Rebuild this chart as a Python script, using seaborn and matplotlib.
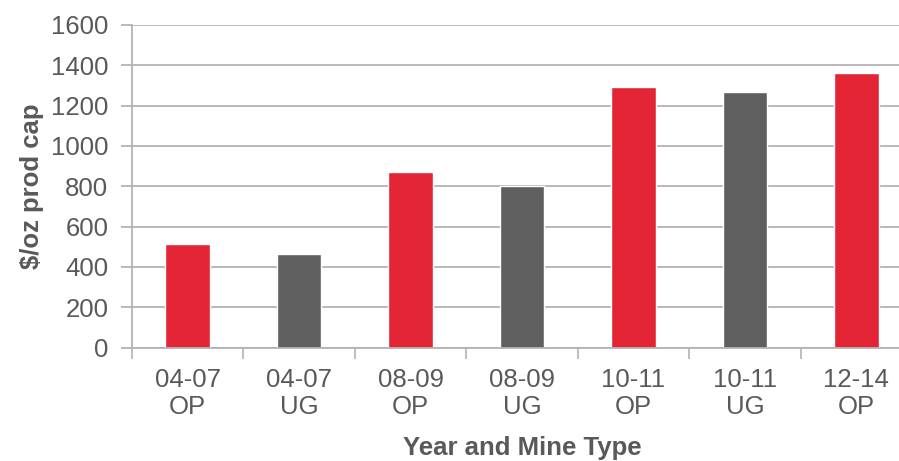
import matplotlib
matplotlib.use("Agg")
import matplotlib.pyplot as plt
import seaborn as sns
import pandas as pd

# Capital intensity by period and mine type
categories = ["04-07\nOP", "04-07\nUG", "08-09\nOP", "08-09\nUG",
              "10-11\nOP", "10-11\nUG", "12-14\nOP"]
values = [515, 465, 870, 800, 1290, 1270, 1360]
mine_type = ["OP", "UG", "OP", "UG", "OP", "UG", "OP"]
y_ticks = [0, 200, 400, 600, 800, 1000, 1200, 1400, 1600]

RED = "#E32434"
DARK = "#5F5F5F"
TEXT = "#595959"
GRID = "#B3B3B3"
FS = 18.5

sns.set_theme(style="white")
plt.rcParams["font.family"] = ["Liberation Sans", "DejaVu Sans"]

df = pd.DataFrame({"period": categories, "value": values, "type": mine_type})
colors = [RED if t == "OP" else DARK for t in mine_type]

fig = plt.figure(figsize=(8.99, 4.61), dpi=100)
ax = fig.add_axes([132 / 899, 1 - 347.5 / 461, (912 - 132) / 899, (347.5 - 25) / 461])

sns.barplot(data=df, x="period", y="value", hue="period", palette=colors,
            width=0.4, legend=False, ax=ax, saturation=1)

ax.set_xlim(-0.5, len(categories) - 0.5)
ax.set_ylim(0, 1600)
ax.set_yticks(y_ticks)
ax.set_yticklabels([str(v) for v in y_ticks])
ax.yaxis.grid(True, color=GRID, linewidth=1.3)
ax.set_axisbelow(True)

# category boundary ticks on the x axis
ax.set_xticks([i + 0.5 for i in range(-1, len(categories))], minor=True)
ax.tick_params(axis="x", which="minor", length=8, width=1.2, color=GRID, direction="out", bottom=True)
ax.tick_params(axis="x", which="major", length=0, pad=15, labelsize=FS, labelcolor=TEXT)
ax.tick_params(axis="y", which="major", length=8, width=1.3, color=GRID, direction="out",
               left=True, pad=9, labelsize=FS, labelcolor=TEXT)
for lbl in ax.get_xticklabels():
    lbl.set_linespacing(1.15)

for s in ["top", "right"]:
    ax.spines[s].set_visible(False)
for s in ["left", "bottom"]:
    ax.spines[s].set_color(GRID)
    ax.spines[s].set_linewidth(1.3)

ax.set_xlabel("Year and Mine Type", fontsize=FS, fontweight="bold", color=TEXT, labelpad=12)
ax.set_ylabel("\\$/oz prod cap", fontsize=FS, fontweight="bold", color=TEXT, labelpad=5)

fig.savefig("out.png", dpi=100)
